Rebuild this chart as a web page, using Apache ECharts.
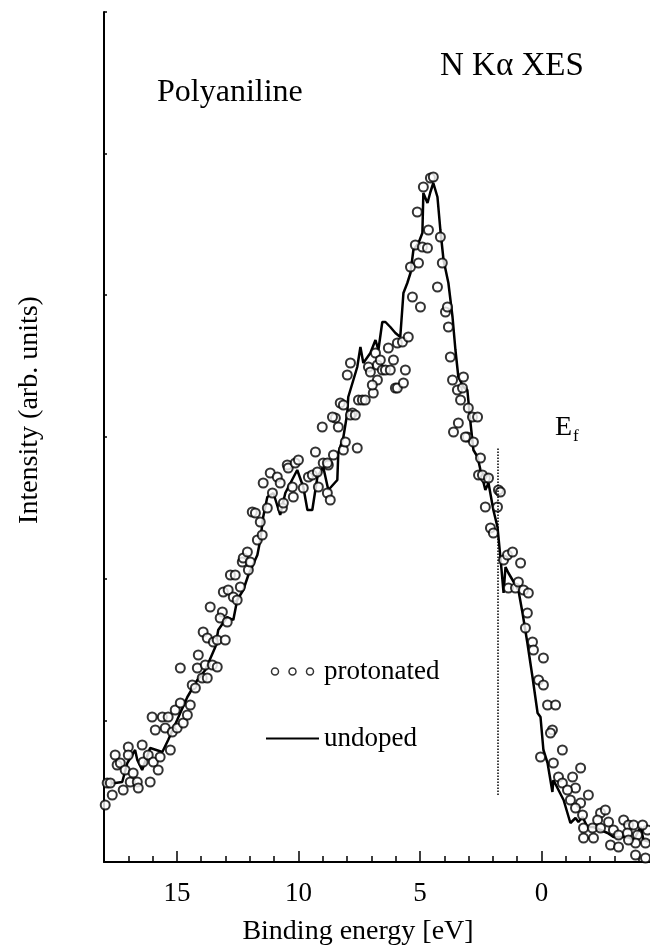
<!DOCTYPE html>
<html>
<head>
<meta charset="utf-8">
<script src="https://cdn.jsdelivr.net/npm/echarts@6/dist/echarts.min.js"></script>
<style>
  html, body { margin: 0; padding: 0; background: #fff; }
  #chart { width: 650px; height: 945px; }
</style>
</head>
<body>
<div id="chart"></div>
<script>
// x: binding energy [eV], y: intensity (arb. units)
const xTickLabels = [15, 10, 5, 0]
const fermiEnergy = 1.81
const fermiRange = [67, 414]

// undoped (solid line)
const undopedEnergy = [
  17.99, 17.54, 17.25, 17.04, 16.72, 16.63, 16.43, 16.10, 15.60, 15.36,
  14.99, 14.57, 14.16, 13.83, 13.42, 13.30, 12.93, 12.68, 12.52, 12.27,
  12.06, 11.69, 11.57, 11.45, 11.28, 11.03, 10.75, 10.54, 10.05, 9.80,
  9.63, 9.43, 9.22, 8.98, 8.77, 8.40, 8.36, 8.15, 7.99, 7.95,
  7.74, 7.58, 7.45, 7.33, 7.04, 6.83, 6.71, 6.55, 6.42, 6.22,
  6.01, 5.81, 5.68, 5.52, 5.39, 5.27, 5.06, 4.90, 4.86, 4.69,
  4.57, 4.45, 4.28, 4.16, 4.03, 3.83, 3.66, 3.54, 3.42, 3.21,
  3.05, 2.92, 2.80, 2.63, 2.51, 2.31, 2.18, 1.98, 1.81, 1.69,
  1.56, 1.48, 1.36, 1.19, 0.95, 0.78, 0.58, 0.37, 0.16, 0.04,
  -0.08, -0.25, -0.45, -0.49, -0.91, -1.19, -1.40, -1.52, -1.69, -1.89,
  -2.14, -2.72, -2.96, -3.54, -3.79, -4.08, -4.20, -4.49
]
const undopedIntensity = [
  79, 79, 80, 99, 112, 102, 92, 114, 110, 122,
  142, 165, 182, 192, 215, 232, 245, 242, 262, 272,
  287, 307, 322, 345, 365, 369, 347, 369, 392, 375,
  352, 352, 385, 395, 372, 382, 409, 425, 449, 465,
  482, 495, 515, 499, 509, 522, 512, 540, 540, 535,
  529, 525, 569, 579, 589, 612, 619, 629, 669, 659,
  670, 679, 665, 632, 602, 579, 545, 512, 485, 475,
  472, 439, 412, 405, 392, 372, 379, 352, 335, 305,
  269, 295, 289, 282, 272, 249, 219, 185, 149, 145,
  112, 99, 70, 82, 62, 39, 44, 40, 45, 35,
  35, 29, 25, 25, 22, 35, 22, 20
]

// protonated (open circles)
const protonatedEnergy = [
  17.95, 17.87, 17.74, 17.66, 17.54, 17.46, 17.33, 17.21, 17.13, 17.00,
  17.00, 16.92, 16.80, 16.63, 16.59, 16.43, 16.39, 16.18, 16.10, 16.02,
  15.89, 15.97, 15.77, 15.69, 15.60, 15.48, 15.36, 15.27, 15.19, 15.07,
  14.99, 14.86, 14.86, 14.74, 14.57, 14.45, 14.37, 14.24, 14.12, 14.16,
  13.96, 13.75, 13.83, 13.54, 13.34, 13.92, 13.75, 13.63, 13.50, 13.34,
  13.13, 13.01, 13.22, 12.93, 13.09, 12.89, 12.80, 12.60, 12.68, 12.52,
  12.39, 12.31, 12.27, 12.10, 12.06, 11.98, 11.69, 11.49, 11.57, 11.90,
  11.77, 11.28, 11.45, 11.16, 11.07, 10.87, 10.75, 10.66, 10.62, 10.46,
  10.42, 10.25, 10.21, 10.13, 10.00, 9.80, 9.59, 9.43, 9.22, 9.18,
  8.98, 8.81, 8.77, 8.69, 8.56, 9.30, 8.15, 8.81, 8.07, 9.02,
  8.48, 8.36, 8.28, 7.78, 7.58, 7.53, 7.37, 7.25, 6.92, 6.75,
  6.96, 6.01, 5.93, 5.68, 5.60, 7.99, 7.86, 7.12, 7.04, 6.75,
  6.55, 6.42, 6.22, 8.60, 8.15, 7.86, 7.66, 6.83, 6.63, 6.30,
  6.09, 5.93, 5.72, 5.48, 5.31, 4.98, 5.39, 5.06, 5.19, 4.90,
  4.69, 4.65, 5.11, 4.86, 4.57, 4.45, 4.16, 4.08, 4.28, 3.95,
  3.87, 3.83, 3.75, 3.66, 3.46, 3.33, 3.21, 3.25, 3.42, 3.62,
  3.05, 3.01, 2.84, 2.63, 2.80, 2.51, 2.59, 2.31, 3.13, 2.43,
  2.18, 1.77, 1.69, 2.31, 1.81, 2.10, 1.98, 1.56, 1.40, 1.19,
  0.86, 1.36, 1.07, 0.95, 0.74, 0.54, 0.58, 0.66, 0.37, 0.33,
  -0.08, 0.12, -0.08, -0.25, -0.58, -0.45, -0.37, -0.86, 0.04, -0.49,
  -1.61, -0.70, -1.28, -0.86, -1.40, -1.07, -1.93, -1.19, -1.61, -1.40,
  -1.69, -2.43, -2.63, -2.31, -1.73, -2.10, -2.43, -2.76, -2.96, -3.38,
  -3.58, -3.79, -3.17, -3.54, -3.95, -4.36, -4.28, -3.87, -3.58, -1.73,
  -2.14, -2.84, -3.17, -3.87, -4.28, -4.16
]
const protonatedIntensity = [
  57, 79, 79, 67, 107, 97, 99, 72, 92, 115,
  107, 80, 89, 80, 74, 117, 100, 107, 80, 145,
  132, 100, 92, 105, 145, 134, 145, 112, 130, 152,
  134, 159, 194, 139, 147, 157, 177, 174, 207, 194,
  184, 184, 197, 197, 195, 230, 224, 255, 220, 222,
  250, 222, 244, 240, 270, 272, 287, 287, 265, 262,
  275, 300, 304, 310, 292, 300, 322, 327, 340, 350,
  349, 354, 379, 389, 369, 385, 379, 354, 359, 397,
  394, 375, 365, 399, 402, 374, 385, 387, 390, 375,
  399, 369, 397, 362, 407, 410, 412, 399, 420, 435,
  444, 435, 459, 449, 414, 462, 462, 462, 469, 482,
  477, 474, 474, 479, 492, 487, 499, 495, 490, 497,
  492, 492, 492, 445, 457, 447, 447, 509, 502, 514,
  502, 519, 520, 525, 565, 555, 595, 599, 617, 615,
  614, 632, 650, 675, 684, 685, 625, 599, 575, 550,
  555, 535, 505, 482, 472, 462, 485, 474, 439, 430,
  425, 454, 445, 445, 420, 404, 387, 384, 425, 387,
  384, 372, 370, 355, 355, 334, 329, 302, 307, 310,
  299, 274, 274, 280, 272, 269, 249, 234, 220, 212,
  204, 182, 177, 157, 157, 132, 129, 112, 105, 99,
  94, 85, 85, 79, 74, 72, 67, 62, 59, 54,
  47, 49, 52, 42, 34, 34, 34, 40, 32, 42,
  37, 37, 27, 29, 27, 32, 19, 19, 22, 24,
  24, 17, 15, 7, 4, 37
]

const undopedData = undopedEnergy.map((e, i) => [e, undopedIntensity[i]])
const protonatedData = protonatedEnergy.map((e, i) => [e, protonatedIntensity[i]])

const serif = 'Liberation Serif'
const chart = echarts.init(document.getElementById('chart'))

// legend icons: three small circles / a short bar
const circlesIcon = 'path://M0,3.5a3.5,3.5 0 1,0 7,0a3.5,3.5 0 1,0 -7,0Z M17.5,3.5a3.5,3.5 0 1,0 7,0a3.5,3.5 0 1,0 -7,0Z M35,3.5a3.5,3.5 0 1,0 7,0a3.5,3.5 0 1,0 -7,0Z'
const barIcon = 'path://M0,4L53,4L53,6.2L0,6.2Z'

const options = {
  backgroundColor: '#fff',
  animation: false,
  textStyle: { fontFamily: serif, color: '#000' },
  grid: {
    left: 104,
    width: 559,
    top: 12,
    height: 850,
    containLabel: false,
    outerBoundsMode: 'none',
  },
  xAxis: {
    type: 'value',
    inverse: true,
    min: -5,
    max: 18,
    interval: 5,
    name: 'Binding energy [eV]',
    nameLocation: 'middle',
    nameGap: 56,
    nameTextStyle: {
      fontFamily: serif,
      fontSize: 28,
      color: '#000',
      padding: [0, 51, 0, 0],
    },
    axisLine: { onZero: false, lineStyle: { color: '#000', width: 2 } },
    axisTick: { inside: true, length: 11, lineStyle: { color: '#000', width: 1.5 } },
    minorTick: { show: true, splitNumber: 5, length: 6, lineStyle: { color: '#000', width: 1.5 } },
    splitLine: { show: false },
    axisLabel: {
      margin: 18,
      fontFamily: serif,
      fontSize: 27,
      color: '#000',
      formatter: (v) => (xTickLabels.includes(v) ? String(v) : ''),
    },
  },
  yAxis: {
    type: 'value',
    position: 'left',
    min: 0,
    max: 850,
    interval: 141.7,
    name: 'Intensity (arb. units)',
    nameLocation: 'middle',
    nameGap: 60,
    nameTextStyle: {
      fontFamily: serif,
      fontSize: 28,
      color: '#000',
      padding: [0, 0, 0, 54],
    },
    axisLine: { show: true, onZero: false, lineStyle: { color: '#000', width: 2 } },
    axisTick: { show: true, inside: true, length: 3, lineStyle: { color: '#000', width: 1.5 } },
    splitLine: { show: false },
    axisLabel: { show: false },
  },
  legend: {
    orient: 'vertical',
    left: 261,
    top: 653,
    itemGap: 40,
    itemWidth: 53,
    itemHeight: 7,
    selectedMode: false,
    textStyle: { fontFamily: serif, fontSize: 27, color: '#000' },
    data: [
      {
        name: 'protonated',
        icon: circlesIcon,
        itemStyle: { color: '#fff', borderColor: '#000', borderWidth: 1.5 },
      },
      {
        name: 'undoped',
        icon: barIcon,
        itemStyle: { color: '#000', borderWidth: 0 },
      },
    ],
  },
  graphic: [
    {
      type: 'text',
      left: 157,
      top: 77,
      style: { text: 'Polyaniline', font: '32px "Liberation Serif"', fill: '#000' },
    },
    {
      type: 'text',
      left: 440,
      top: 50,
      style: { text: 'N Kα XES', font: '33px "Liberation Serif"', fill: '#000' },
    },
    {
      type: 'text',
      left: 555,
      top: 414,
      style: {
        text: '{e|E}{f|f}',
        rich: {
          e: { fontFamily: serif, fontSize: 28, color: '#000' },
          f: { fontFamily: serif, fontSize: 17, color: '#000', padding: [18, 0, 0, 1] },
        },
      },
    },
  ],
  series: [
    {
      name: 'undoped',
      type: 'line',
      data: undopedData,
      symbol: 'none',
      smooth: false,
      lineStyle: { color: '#000', width: 2.5 },
      itemStyle: { color: '#000' },
      z: 2,
      markLine: {
        silent: true,
        symbol: 'none',
        label: { show: false },
        lineStyle: { color: '#000', width: 1.5, type: 'dotted' },
        data: [[
          { coord: [fermiEnergy, fermiRange[0]] },
          { coord: [fermiEnergy, fermiRange[1]] },
        ]],
      },
    },
    {
      name: 'protonated',
      type: 'scatter',
      data: protonatedData,
      symbol: 'emptyCircle',
      symbolSize: 9,
      itemStyle: { color: '#000', borderColor: '#000', borderWidth: 1 },
      z: 3,
    },
  ],
}

chart.setOption(options)
</script>
</body>
</html>
